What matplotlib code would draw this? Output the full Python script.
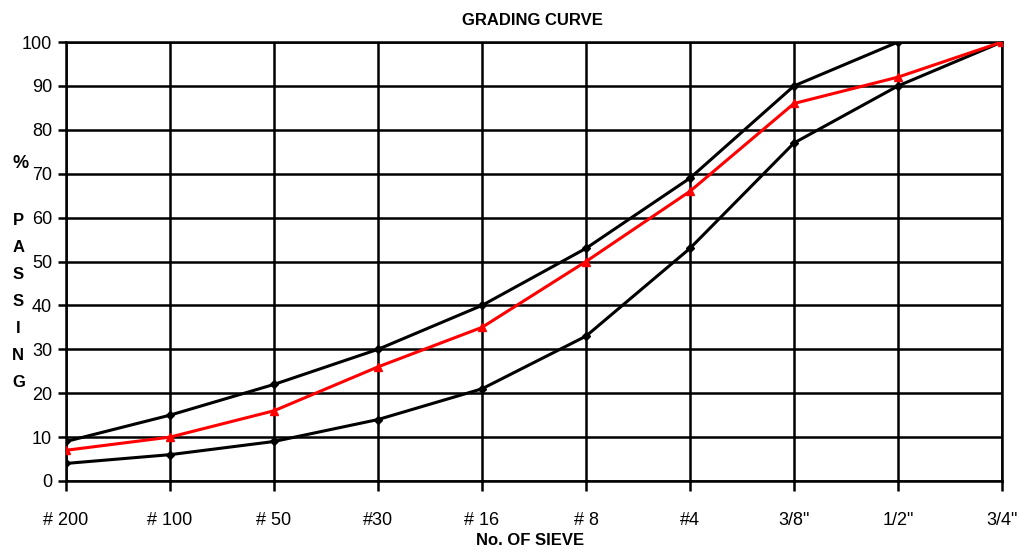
import matplotlib.pyplot as plt

# Sieve sizes and percent passing
sieves = ["# 200", "# 100", "# 50", "#30", "# 16", "# 8", "#4", "3/8\"", "1/2\"", "3/4\""]
upper_limit = [9, 15, 22, 30, 40, 53, 69, 90, 100, 100]
sample = [7, 10, 16, 26, 35, 50, 66, 86, 92, 100]
lower_limit = [4, 6, 9, 14, 21, 33, 53, 77, 90, 100]

plt.rcParams['font.family'] = ['Liberation Sans', 'DejaVu Sans']

fig = plt.figure(figsize=(10.19, 5.53), dpi=100)
ax = fig.add_axes([0.0648, 0.1302, 0.9185, 0.7938])

x = range(len(sieves))
ax.plot(x, upper_limit, color='black', lw=2.2, marker='D', ms=4, zorder=3)
ax.plot(x, lower_limit, color='black', lw=2.2, marker='D', ms=4, zorder=3)
ax.plot(x, sample, color='red', lw=2.2, marker='^', ms=6, zorder=4)

ax.set_xlim(0, len(sieves) - 1)
ax.set_ylim(0, 100)
ax.set_xticks(list(x))
ax.set_xticklabels(sieves)
ax.set_yticks(range(0, 101, 10))
ax.grid(True, color='black', lw=1.8)
ax.set_axisbelow(True)
for s in ax.spines.values():
    s.set_linewidth(1.8)
ax.tick_params(axis='x', direction='out', length=7, width=1.8, pad=15, labelsize=13)
ax.tick_params(axis='y', direction='out', length=6, width=1.8, pad=4, labelsize=13)

fig.text(0.523, 0.963, "GRADING CURVE", ha='center', va='center', fontsize=12, fontweight='bold')
fig.text(0.52, 0.022, "No. OF SIEVE", ha='center', va='center', fontsize=12, fontweight='bold')
fig.text(0.020, 0.705, "%", ha='center', va='center', fontsize=13, fontweight='bold')
fig.text(0.018, 0.455, "P\nA\nS\nS\nI\nN\nG", ha='center', va='center', fontsize=12,
         fontweight='bold', linespacing=2.0)

fig.savefig('out.png', dpi=100)
